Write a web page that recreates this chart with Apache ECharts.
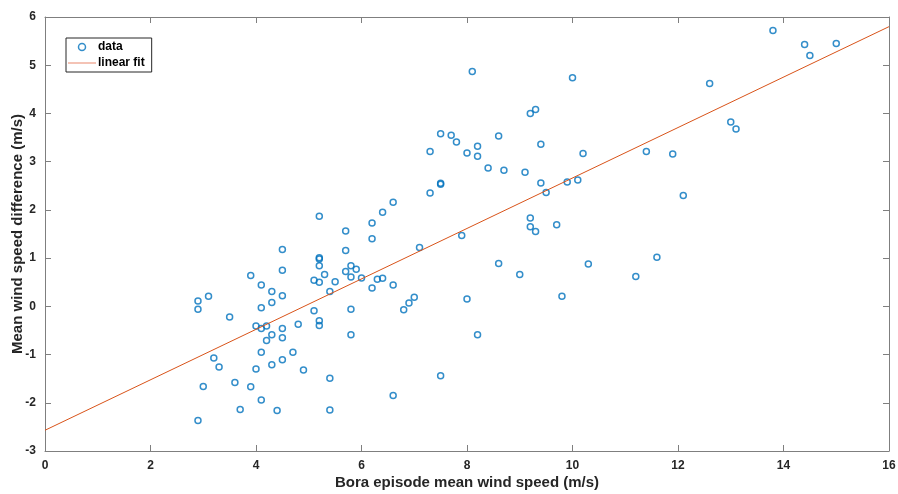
<!DOCTYPE html>
<html>
<head>
<meta charset="utf-8">
<script src="https://cdn.jsdelivr.net/npm/echarts@6/dist/echarts.min.js"></script>
<style>html,body{margin:0;padding:0;background:#fff}#c{width:898px;height:494px}</style>
</head>
<body>
<div id="c"></div>
<script>
// Bora episode mean wind speed (m/s)
var dataX = [
  7.3, 5.2, 6.6, 6.4, 6.2, 5.7, 6.2, 5.7, 4.5, 7.1,
  5.2, 5.2, 5.2, 4.5, 3.9, 5.3, 5.7, 5.8, 5.9, 6.0,
  5.8, 5.1, 5.2, 5.5, 6.3, 6.4, 6.2, 6.6, 5.4, 4.1,
  4.3, 4.5, 4.3, 4.1, 2.9, 2.9, 3.1, 3.5, 5.1, 5.8,
  6.8, 6.9, 7.0, 4.0, 4.1, 4.2, 4.5, 4.8, 5.2, 5.2,
  4.3, 4.2, 4.5, 5.8, 4.1, 4.7, 3.2, 3.3, 4.3, 4.5,
  4.0, 4.9, 5.4, 3.0, 3.6, 3.9, 4.1, 6.6, 3.7, 4.4,
  5.4, 2.9,
  8.1, 10.0, 9.2, 9.3, 7.5, 7.7, 7.8, 8.6, 7.3, 8.0,
  8.2, 8.2, 9.4, 10.2, 8.4, 8.7, 9.1, 7.5, 7.5, 9.4,
  9.5, 9.9, 10.1, 9.2, 9.2, 9.3, 9.7, 7.9, 8.6, 9.0,
  10.3, 11.2, 8.0, 9.8, 8.2, 7.5,
  13.8, 14.4, 14.5, 15.0, 12.6, 13.0, 13.1, 11.4, 11.9, 12.1,
  11.6
];
// Mean wind speed difference (m/s)
var dataY = [
  2.35, 1.87, 2.16, 1.95, 1.73, 1.56, 1.40, 1.16, 1.18, 1.22,
  1.01, 0.98, 0.84, 0.75, 0.64, 0.66, 0.72, 0.84, 0.77, 0.59,
  0.61, 0.54, 0.50, 0.51, 0.56, 0.58, 0.38, 0.44, 0.31, 0.44,
  0.31, 0.22, 0.08, -0.03, 0.11, -0.06, 0.21, -0.22, -0.09, -0.06,
  -0.07, 0.07, 0.19, -0.41, -0.46, -0.41, -0.46, -0.37, -0.30, -0.40,
  -0.59, -0.71, -0.65, -0.59, -0.95, -0.95, -1.07, -1.26, -1.21, -1.11,
  -1.30, -1.32, -1.49, -1.66, -1.58, -1.67, -1.94, -1.85, -2.14, -2.16,
  -2.15, -2.37,
  4.87, 4.74, 4.00, 4.08, 3.58, 3.55, 3.41, 3.53, 3.21, 3.18,
  3.32, 3.11, 3.36, 3.17, 2.87, 2.82, 2.78, 2.55, 2.53, 2.56,
  2.36, 2.58, 2.62, 1.83, 1.65, 1.55, 1.69, 1.47, 0.89, 0.66,
  0.88, 0.62, 0.15, 0.21, -0.59, -1.44,
  5.72, 5.43, 5.20, 5.45, 4.62, 3.82, 3.68, 3.21, 3.16, 2.30,
  1.02
];
// linear fit endpoints
var fitX = [0, 16];
var fitY = [-2.57, 5.80];
var xTicks = [0, 2, 4, 6, 8, 10, 12, 14, 16];
var yTicks = [-3, -2, -1, 0, 1, 2, 3, 4, 5, 6];

var pts = dataX.map(function (x, i) { return [x, dataY[i]]; });
var fitPts = fitX.map(function (x, i) { return [x, fitY[i]]; });

var FONT = 'Liberation Sans, Arial, Helvetica, sans-serif';
var axisCol = '#7f7f7f';
var txtCol = '#262626';

function xAxisCfg(pos, showLabel, name) {
  return {
    type: 'value', position: pos, min: xTicks[0], max: xTicks[xTicks.length - 1], interval: 2,
    name: name, nameLocation: 'middle', nameGap: 24, nameMoveOverlap: false,
    nameTextStyle: { fontFamily: FONT, fontWeight: 'bold', fontSize: 15, color: txtCol },
    axisLine: { show: true, onZero: false, lineStyle: { color: axisCol, width: 1 } },
    axisTick: { show: true, inside: true, length: 6, lineStyle: { color: axisCol } },
    axisLabel: { show: showLabel, fontFamily: FONT, fontWeight: 'bold', fontSize: 12, color: txtCol, margin: 9 },
    splitLine: { show: false }
  };
}
function yAxisCfg(pos, showLabel, name) {
  return {
    type: 'value', position: pos, min: yTicks[0], max: yTicks[yTicks.length - 1], interval: 1,
    name: name, nameLocation: 'middle', nameGap: 20, nameMoveOverlap: false,
    nameTextStyle: { fontFamily: FONT, fontWeight: 'bold', fontSize: 15, color: txtCol },
    axisLine: { show: true, onZero: false, lineStyle: { color: axisCol, width: 1 } },
    axisTick: { show: true, inside: true, length: 6, lineStyle: { color: axisCol } },
    axisLabel: { show: showLabel, fontFamily: FONT, fontWeight: 'bold', fontSize: 12, color: txtCol, margin: 9 },
    splitLine: { show: false }
  };
}

var chart = echarts.init(document.getElementById('c'), null, { renderer: 'canvas' });
chart.setOption({
  animation: false,
  backgroundColor: '#ffffff',
  grid: { left: 45, right: 9, top: 17, bottom: 43, containLabel: false, outerBoundsMode: 'none' },
  xAxis: [xAxisCfg('bottom', true, 'Bora episode mean wind speed (m/s)'), xAxisCfg('top', false, '')],
  yAxis: [yAxisCfg('left', true, 'Mean wind speed difference (m/s)'), yAxisCfg('right', false, '')],
  legend: {
    left: 66, top: 38, orient: 'vertical',
    backgroundColor: '#fff',
    borderColor: '#262626', borderWidth: 1,
    padding: [3, 7, 3, 2], itemGap: 4,
    itemWidth: 28, itemHeight: 7,
    textStyle: { fontFamily: FONT, fontWeight: 'bold', fontSize: 12, color: '#000', padding: [0, 0, 0, -3] },
    data: [
      { name: 'data', icon: 'circle', itemStyle: { color: 'transparent', borderColor: '#0072BD', borderWidth: 1.5 } },
      { name: 'linear fit', icon: 'path://M0,0 L28,0 L28,1 L0,1 Z', itemStyle: { color: '#E9876A' } }
    ]
  },
  series: [
    {
      name: 'data', type: 'scatter', data: pts, symbol: 'circle', symbolSize: 6,
      itemStyle: { color: 'transparent', borderColor: '#0072BD', borderWidth: 1.5 }
    },
    {
      name: 'linear fit', type: 'line', data: fitPts, symbol: 'none', showSymbol: false,
      lineStyle: { color: '#D95319', width: 1 }, itemStyle: { color: '#D95319' }
    }
  ]
});
</script>
</body>
</html>
